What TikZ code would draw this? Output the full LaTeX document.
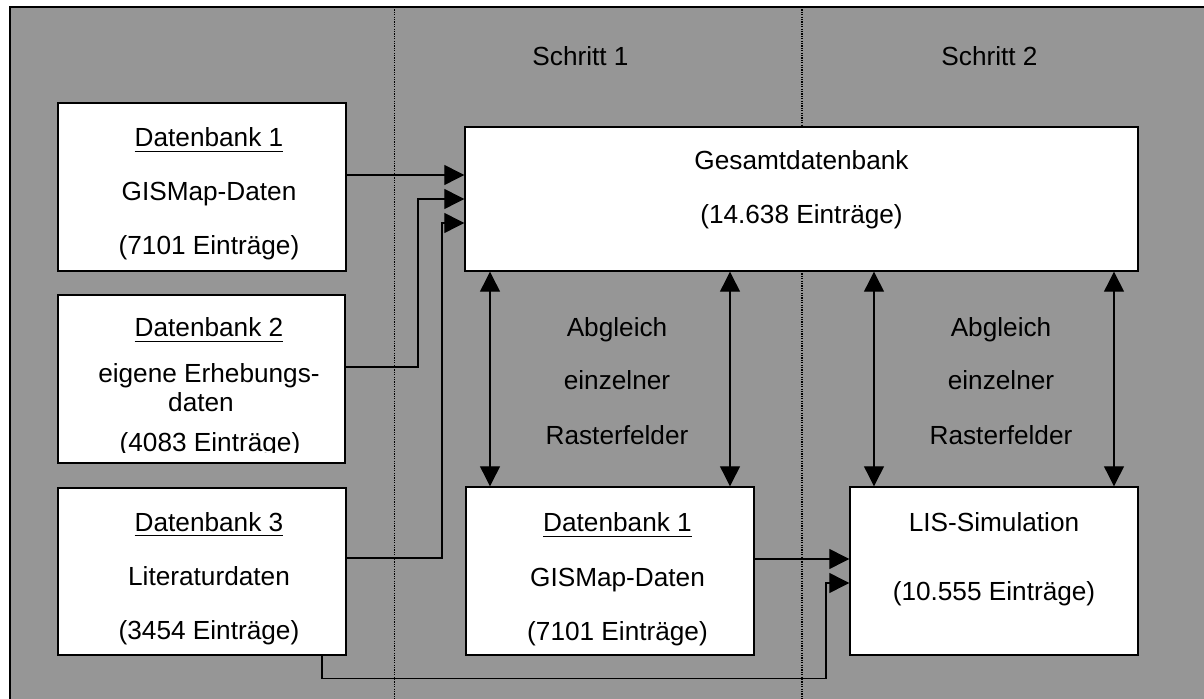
\documentclass[tikz,border=0pt]{standalone}
\usepackage{fontspec}
\setmainfont{Liberation Sans}
\usetikzlibrary{arrows.meta}
\definecolor{bg}{RGB}{150,150,150}
\newcommand\myul[1]{\setbox0\hbox{#1}\rlap{\rule[-2.6pt]{\wd0}{0.55pt}}#1}
\begin{document}
\begin{tikzpicture}[x=0.5pt,y=-0.5pt,
  box/.style={draw=black, line width=0.7pt, fill=white, inner sep=0pt, rectangle},
  txt/.style={font=\fontsize{13.1}{15}\selectfont, anchor=base, inner sep=0pt},
  arr/.style={line width=0.6pt, -{Triangle[length=10pt,width=10pt]}},
  darr/.style={line width=0.6pt, {Triangle[length=10pt,width=10pt]}-{Triangle[length=10pt,width=10pt]}},
  dotline/.style={line width=0.75pt, dash pattern=on 0.6pt off 0.6pt}]
\useasboundingbox (0,0) rectangle (1204,699);
\clip (0,0) rectangle (1204,699);
\draw[fill=bg, line width=0.7pt] (10,7) rectangle (1220,720);
% column separators
\draw[dotline] (394.5,7) -- (394.5,699);
\draw[dotline] (802,7) -- (802,699);
% step titles
\node[txt] (s1) at (580.5,65.5) {Schritt 1};
\node[txt] (s2) at (989.5,65.5) {Schritt 2};
% boxes
\node[box, minimum width=144pt, minimum height=84pt] (db1) at (202,187) {};
\node[box, minimum width=143.5pt, minimum height=84pt] (db2) at (201.5,379) {};
\node[box, minimum width=144pt, minimum height=83.5pt] (db3) at (202,571.5) {};
\node[box, minimum width=336.5pt, minimum height=72pt] (ges) at (801.5,199) {};
\node[box, minimum width=144pt, minimum height=84pt] (mdb) at (610,571) {};
\node[box, minimum width=144pt, minimum height=84pt] (lis) at (994,571) {};
% box texts
\node[txt] (db1a) at (209,146.7) {\myul{Datenbank 1}};
\node[txt] (db1b) at (209,201) {GISMap-Daten};
\node[txt] (db1c) at (209,255) {(7101 Einträge)};
\node[txt] (db2a) at (209,336.7) {\myul{Datenbank 2}};
\node[txt] (db2b) at (209,382.7) {eigene Erhebungs-};
\node[txt] (db2c) at (201,411.7) {daten};
\begin{scope}
\clip (60,420) rectangle (340,453);
\node[txt] (db2d) at (210,451.7) {(4083 Einträge)};
\end{scope}
\node[txt] (db3a) at (209,531) {\myul{Datenbank 3}};
\node[txt] (db3b) at (209,585) {Literaturdaten};
\node[txt] (db3c) at (209,639) {(3454 Einträge)};
\node[txt] (gesa) at (801.5,170) {Gesamtdatenbank};
\node[txt] (gesb) at (801.5,224) {(14.638 Einträge)};
\node[txt] (mdba) at (617.5,531.7) {\myul{Datenbank 1}};
\node[txt] (mdbb) at (617.5,586) {GISMap-Daten};
\node[txt] (mdbc) at (617.5,640) {(7101 Einträge)};
\node[txt] (lisa) at (994,531) {LIS-Simulation};
\node[txt] (lisb) at (994,600) {(10.555 Einträge)};
% Abgleich labels
\node[txt] (ab1a) at (617,336.7) {Abgleich};
\node[txt] (ab1b) at (617,390) {einzelner};
\node[txt] (ab1c) at (617,444.3) {Rasterfelder};
\node[txt] (ab2a) at (1001,336.7) {Abgleich};
\node[txt] (ab2b) at (1001,390) {einzelner};
\node[txt] (ab2c) at (1001,444.3) {Rasterfelder};
% helper coordinates
\coordinate (y175) at (0,175);
\coordinate (y199) at (0,199);
\coordinate (y223) at (0,223);
\coordinate (y367) at (0,367);
\coordinate (y558) at (0,558);
\coordinate (y559) at (0,559);
\coordinate (y583) at (0,583);
\coordinate (k2) at (418,199);
\coordinate (k3) at (442,223);
\coordinate (k4a) at (322,678.5);
\coordinate (k4b) at (826,583);
\coordinate (x490) at (490,0);
\coordinate (x730) at (730,0);
\coordinate (x874) at (874,0);
\coordinate (x1114) at (1114,0);
% connectors into Gesamtdatenbank
\draw[arr] (db1.east |- y175) -- (ges.west |- y175);
\draw[arr] (db2.east |- y367) -| (k2) -- (ges.west |- y199);
\draw[arr] (db3.east |- y558) -| (k3) -- (ges.west |- y223);
% connectors into LIS
\draw[arr] (mdb.east |- y559) -- (lis.west |- y559);
\draw[arr] (db3.south -| k4a) -- (k4a) -| (k4b) -- (lis.west |- y583);
% Abgleich arrows
\draw[darr] (ges.south -| x490) -- (mdb.north -| x490);
\draw[darr] (ges.south -| x730) -- (mdb.north -| x730);
\draw[darr] (ges.south -| x874) -- (lis.north -| x874);
\draw[darr] (ges.south -| x1114) -- (lis.north -| x1114);
\end{tikzpicture}
\end{document}
